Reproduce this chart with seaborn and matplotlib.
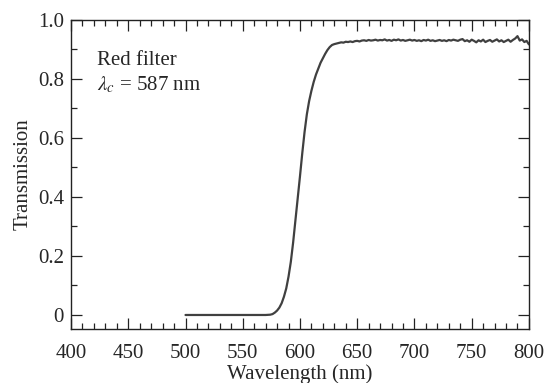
import numpy as np
import pandas as pd
import seaborn as sns
import matplotlib
matplotlib.use("Agg")
import matplotlib.pyplot as plt
from matplotlib.ticker import MultipleLocator, FuncFormatter

# wavelength (nm) and transmission
wl_edge = [500, 520, 540, 560, 570, 574, 576, 578, 580, 582, 584, 586, 588,
           590, 592, 594, 596, 598, 600, 602, 604, 606, 608, 610, 612, 614,
           616, 618, 620, 622, 624, 626, 628, 630]
tr_edge = [0.0, 0.0, 0.0, 0.0, 0.0, 0.001, 0.003, 0.008, 0.015, 0.025, 0.040,
           0.062, 0.090, 0.130, 0.180, 0.245, 0.320, 0.395, 0.470, 0.548,
           0.620, 0.680, 0.725, 0.760, 0.790, 0.815, 0.835, 0.855, 0.870,
           0.885, 0.898, 0.908, 0.915, 0.918]

wl_flat = list(range(632, 802, 2))
tr_flat = [0.920, 0.922, 0.924, 0.923, 0.926, 0.925, 0.927, 0.925, 0.928,
           0.929, 0.927, 0.930, 0.931, 0.929, 0.932, 0.930, 0.931, 0.933,
           0.930, 0.932, 0.931, 0.934, 0.930, 0.932, 0.929, 0.933, 0.931,
           0.934, 0.930, 0.932, 0.929, 0.931, 0.933, 0.930, 0.932, 0.929,
           0.931, 0.928, 0.932, 0.930, 0.933, 0.929, 0.931, 0.928, 0.930,
           0.932, 0.929, 0.931, 0.928, 0.932, 0.930, 0.933, 0.931, 0.929,
           0.933, 0.935, 0.928, 0.931, 0.926, 0.933, 0.929, 0.924, 0.931,
           0.927, 0.933, 0.925, 0.929, 0.932, 0.926, 0.930, 0.934, 0.927,
           0.931, 0.925, 0.929, 0.933, 0.926, 0.932, 0.937, 0.945, 0.930,
           0.934, 0.925, 0.929, 0.917]

df = pd.DataFrame({"wl": wl_edge + wl_flat, "T": tr_edge + tr_flat})

sns.set_style("ticks")
plt.rcParams["font.family"] = ["Liberation Serif", "DejaVu Serif"]
plt.rcParams["mathtext.fontset"] = "stix"

fs = 15

fig = plt.figure(figsize=(5.55, 3.83), dpi=100)
ax = fig.add_axes([0.128, 0.141, 0.825, 0.807])

sns.lineplot(data=df, x="wl", y="T", ax=ax, color="#404040", linewidth=1.6)

ax.set_xlim(400, 800)
ax.set_ylim(-0.0475, 1.0)
ax.xaxis.set_major_locator(MultipleLocator(50))
ax.xaxis.set_minor_locator(MultipleLocator(10))
ax.yaxis.set_major_locator(MultipleLocator(0.2))
ax.yaxis.set_minor_locator(MultipleLocator(0.1))
ax.yaxis.set_major_formatter(FuncFormatter(lambda v, p: "0" if abs(v) < 1e-9 else f"{v:.1f}"))

ax.tick_params(which="both", direction="in", top=True, right=True,
               labelsize=fs, color="#222222", width=0.9)
ax.tick_params(axis="x", which="major", length=8, pad=11)
ax.tick_params(axis="y", which="major", length=8, pad=5)
ax.tick_params(which="minor", length=4)
for s in ax.spines.values():
    s.set_linewidth(1.0)
    s.set_color("#222222")

ax.set_xlabel("Wavelength (nm)", fontsize=fs, labelpad=1)
ax.set_ylabel("Transmission", fontsize=fs, labelpad=4)

ax.text(0.057, 0.870, "Red filter", transform=ax.transAxes, fontsize=fs,
        va="center", ha="left")
ax.text(0.057, 0.788, r"$\lambda_c$ = 587 nm", transform=ax.transAxes,
        fontsize=fs, va="center", ha="left")

fig.savefig("out.png", dpi=100)
